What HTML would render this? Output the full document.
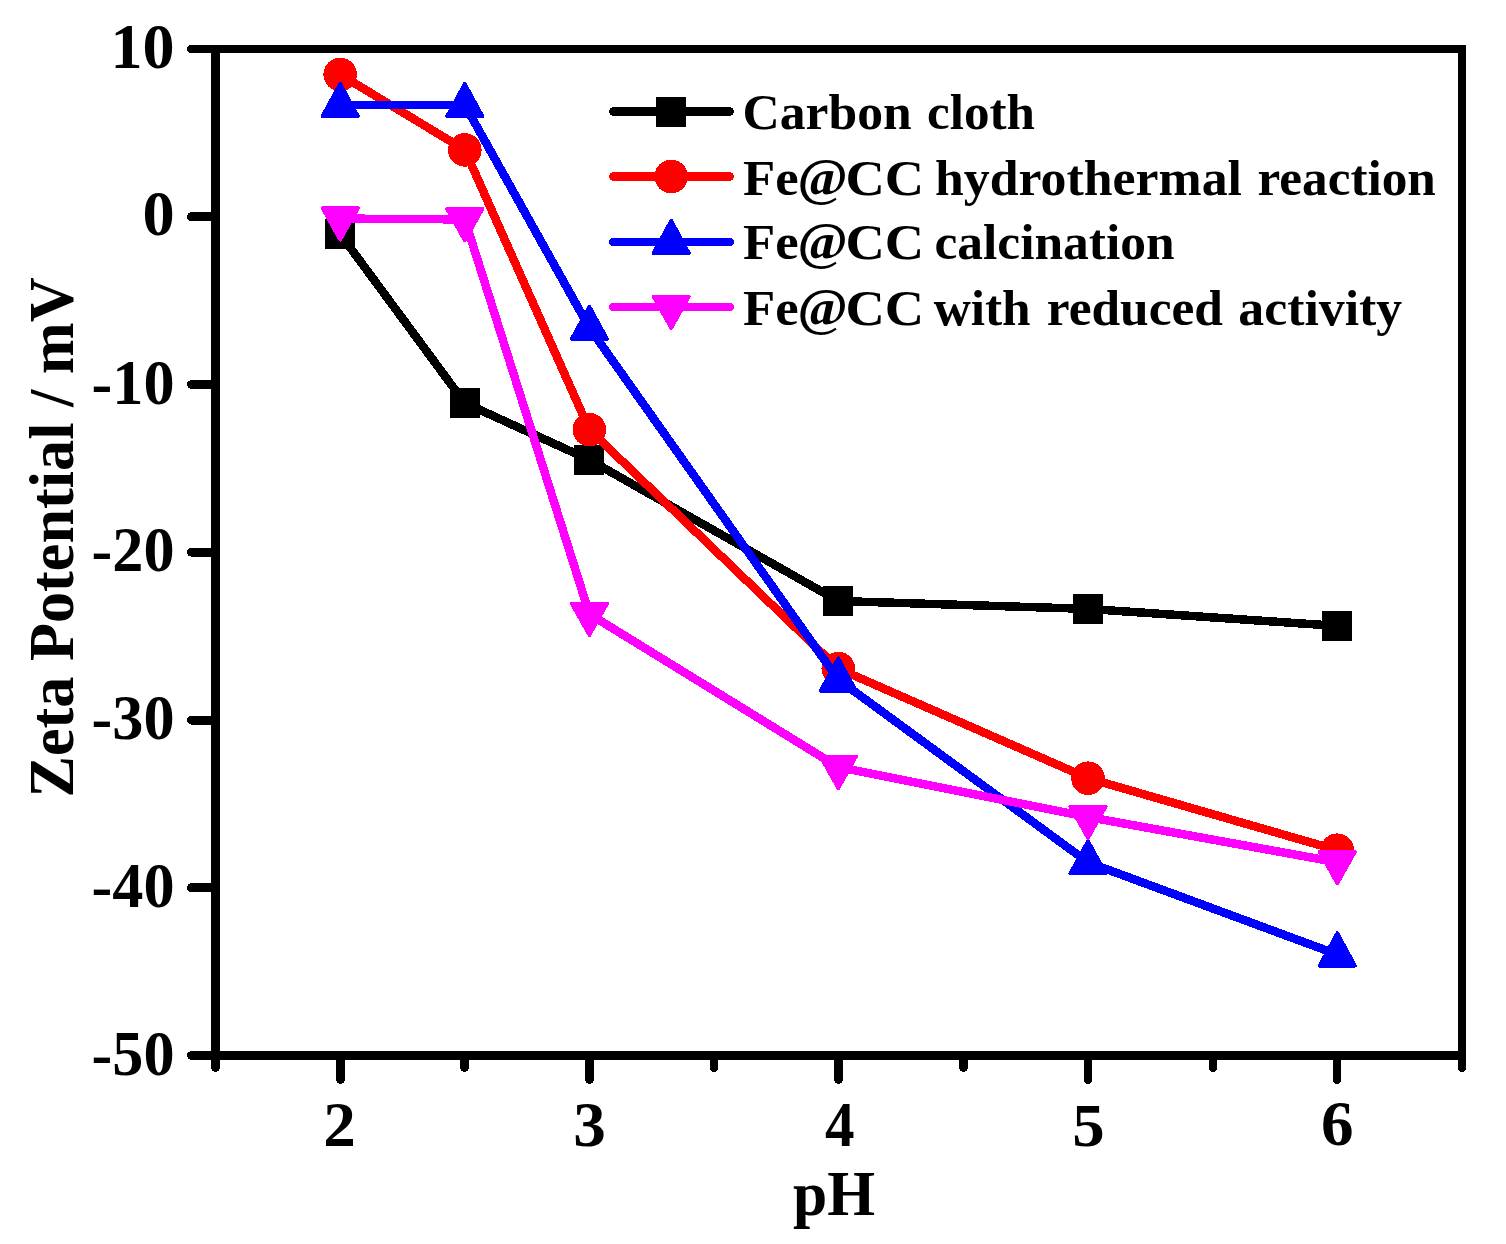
<!DOCTYPE html>
<html><head><meta charset="utf-8"><title>Zeta Potential vs pH</title>
<style>
html,body{margin:0;padding:0;background:#fff;}
body{width:1506px;height:1244px;overflow:hidden;}
svg{display:block;}
text{font-family:"Liberation Serif","Times New Roman",serif;font-weight:bold;fill:#000;}
</style></head><body>
<svg width="1506" height="1244" viewBox="0 0 1506 1244">
<rect width="1506" height="1244" fill="#fff"/>
<g shape-rendering="crispEdges">
<polyline points="340.2,234.0 464.8,403.0 589.4,459.8 838.3,601.0 1088.0,608.9 1337.3,625.9" fill="none" stroke="#000000" stroke-width="8.5" stroke-linejoin="round"/>
<rect x="325.2" y="219.0" width="30.0" height="30.0" fill="#000000"/>
<rect x="449.8" y="388.0" width="30.0" height="30.0" fill="#000000"/>
<rect x="574.4" y="444.8" width="30.0" height="30.0" fill="#000000"/>
<rect x="823.3" y="586.0" width="30.0" height="30.0" fill="#000000"/>
<rect x="1073.0" y="593.9" width="30.0" height="30.0" fill="#000000"/>
<rect x="1322.3" y="610.9" width="30.0" height="30.0" fill="#000000"/>
<polyline points="340.2,74.5 464.8,149.9 589.4,429.7 838.3,668.6 1088.0,778.2 1337.3,850.2" fill="none" stroke="#ff0000" stroke-width="8.5" stroke-linejoin="round"/>
<circle cx="340.2" cy="74.5" r="16.8" fill="#ff0000"/>
<circle cx="464.8" cy="149.9" r="16.8" fill="#ff0000"/>
<circle cx="589.4" cy="429.7" r="16.8" fill="#ff0000"/>
<circle cx="838.3" cy="668.6" r="16.8" fill="#ff0000"/>
<circle cx="1088.0" cy="778.2" r="16.8" fill="#ff0000"/>
<circle cx="1337.3" cy="850.2" r="16.8" fill="#ff0000"/>
<polyline points="340.2,105.0 464.8,105.0 589.4,327.8 838.3,679.6 1088.0,862.3 1337.3,954.5" fill="none" stroke="#0000ff" stroke-width="8.5" stroke-linejoin="round"/>
<polygon points="340.2,83.55 358.05,116.25 322.35,116.25" fill="#0000ff" stroke="#0000ff" stroke-width="3.5" stroke-linejoin="round"/>
<polygon points="464.8,83.55 482.65,116.25 446.95,116.25" fill="#0000ff" stroke="#0000ff" stroke-width="3.5" stroke-linejoin="round"/>
<polygon points="589.4,306.35 607.25,339.05 571.55,339.05" fill="#0000ff" stroke="#0000ff" stroke-width="3.5" stroke-linejoin="round"/>
<polygon points="838.3,658.15 856.15,690.85 820.45,690.85" fill="#0000ff" stroke="#0000ff" stroke-width="3.5" stroke-linejoin="round"/>
<polygon points="1088.0,840.85 1105.85,873.55 1070.15,873.55" fill="#0000ff" stroke="#0000ff" stroke-width="3.5" stroke-linejoin="round"/>
<polygon points="1337.3,933.05 1355.15,965.75 1319.45,965.75" fill="#0000ff" stroke="#0000ff" stroke-width="3.5" stroke-linejoin="round"/>
<polyline points="340.2,218.6 464.8,219.4 589.4,614.0 838.3,767.1 1088.0,817.0 1337.3,862.3" fill="none" stroke="#ff00ff" stroke-width="8.5" stroke-linejoin="round"/>
<polygon points="340.2,239.85 358.05,208.05 322.35,208.05" fill="#ff00ff" stroke="#ff00ff" stroke-width="3.5" stroke-linejoin="round"/>
<polygon points="464.8,240.65 482.65,208.85 446.95,208.85" fill="#ff00ff" stroke="#ff00ff" stroke-width="3.5" stroke-linejoin="round"/>
<polygon points="589.4,635.25 607.25,603.45 571.55,603.45" fill="#ff00ff" stroke="#ff00ff" stroke-width="3.5" stroke-linejoin="round"/>
<polygon points="838.3,788.35 856.15,756.55 820.45,756.55" fill="#ff00ff" stroke="#ff00ff" stroke-width="3.5" stroke-linejoin="round"/>
<polygon points="1088.0,838.25 1105.85,806.45 1070.15,806.45" fill="#ff00ff" stroke="#ff00ff" stroke-width="3.5" stroke-linejoin="round"/>
<polygon points="1337.3,883.55 1355.15,851.75 1319.45,851.75" fill="#ff00ff" stroke="#ff00ff" stroke-width="3.5" stroke-linejoin="round"/>
<rect x="211.0" y="45.0" width="9.0" height="1015.0"/>
<rect x="1458.0" y="45.0" width="8.0" height="1015.0"/>
<rect x="211.0" y="45.0" width="1255.0" height="8.0"/>
<rect x="211.0" y="1051.0" width="1255.0" height="9.0"/>
<g stroke="#000" stroke-linecap="round" fill="none">
<line x1="191.0" y1="49.0" x2="215.5" y2="49.0" stroke-width="8.0"/>
<line x1="191.5" y1="216.8" x2="215.5" y2="216.8" stroke-width="9.0"/>
<line x1="191.5" y1="384.5" x2="215.5" y2="384.5" stroke-width="9.0"/>
<line x1="191.5" y1="552.2" x2="215.5" y2="552.2" stroke-width="9.0"/>
<line x1="191.5" y1="720.0" x2="215.5" y2="720.0" stroke-width="9.0"/>
<line x1="191.5" y1="887.8" x2="215.5" y2="887.8" stroke-width="9.0"/>
<line x1="191.5" y1="1055.5" x2="215.5" y2="1055.5" stroke-width="9.0"/>
<line x1="215.50" y1="1055.5" x2="215.50" y2="1067.5" stroke-width="9.0"/>
<line x1="340.50" y1="1055.5" x2="340.50" y2="1079.5" stroke-width="9.0"/>
<line x1="464.50" y1="1055.5" x2="464.50" y2="1067.5" stroke-width="9.0"/>
<line x1="589.50" y1="1055.5" x2="589.50" y2="1079.5" stroke-width="9.0"/>
<line x1="714.00" y1="1055.5" x2="714.00" y2="1068.0" stroke-width="8.0"/>
<line x1="838.50" y1="1055.5" x2="838.50" y2="1079.5" stroke-width="9.0"/>
<line x1="963.50" y1="1055.5" x2="963.50" y2="1067.5" stroke-width="9.0"/>
<line x1="1088.00" y1="1055.5" x2="1088.00" y2="1080.0" stroke-width="8.0"/>
<line x1="1213.00" y1="1055.5" x2="1213.00" y2="1068.0" stroke-width="8.0"/>
<line x1="1337.20" y1="1055.5" x2="1337.20" y2="1080.0" stroke-width="8.0"/>
<line x1="1462.00" y1="1055.5" x2="1462.00" y2="1068.0" stroke-width="8.0"/>
</g>
<line x1="613.25" y1="111.5" x2="729.75" y2="111.5" stroke="#000000" stroke-width="8.5" stroke-linecap="round"/>
<rect x="656.2" y="96.5" width="30.0" height="30.0" fill="#000000"/>
<line x1="613.25" y1="176.5" x2="729.75" y2="176.5" stroke="#ff0000" stroke-width="8.5" stroke-linecap="round"/>
<circle cx="671.2" cy="176.5" r="16.8" fill="#ff0000"/>
<line x1="613.25" y1="242.0" x2="729.75" y2="242.0" stroke="#0000ff" stroke-width="8.5" stroke-linecap="round"/>
<polygon points="671.2,220.55 689.05,253.25 653.35,253.25" fill="#0000ff" stroke="#0000ff" stroke-width="3.5" stroke-linejoin="round"/>
<line x1="613.25" y1="307.0" x2="729.75" y2="307.0" stroke="#ff00ff" stroke-width="8.5" stroke-linecap="round"/>
<polygon points="671.2,328.25 689.05,296.45 653.35,296.45" fill="#ff00ff" stroke="#ff00ff" stroke-width="3.5" stroke-linejoin="round"/>
</g>
<text transform="translate(110.58,68.00) scale(1.0415,1.0220)" font-size="61.5">10</text>
<text transform="translate(142.46,234.75) scale(1.0466,1.0220)" font-size="61.5">0</text>
<text transform="translate(91.52,403.50) scale(1.0127,1.0220)" font-size="61.5">-10</text>
<text transform="translate(91.52,571.25) scale(1.0127,1.0220)" font-size="61.5">-20</text>
<text transform="translate(91.52,739.00) scale(1.0127,1.0220)" font-size="61.5">-30</text>
<text transform="translate(91.52,906.75) scale(1.0127,1.0220)" font-size="61.5">-40</text>
<text transform="translate(91.52,1074.50) scale(1.0127,1.0220)" font-size="61.5">-50</text>
<text transform="translate(323.26,1145.90) scale(1.0588,1.0209)" font-size="61.5">2</text>
<text transform="translate(573.13,1145.60) scale(1.0595,1.0210)" font-size="61.5">3</text>
<text transform="translate(824.90,1146.00) scale(0.9600,1.0395)" font-size="61.5">4</text>
<text transform="translate(1072.17,1145.61) scale(1.0538,1.0065)" font-size="61.5">5</text>
<text transform="translate(1321.10,1145.40) scale(1.0584,1.0355)" font-size="61.5">6</text>
<text transform="translate(793.05,1215.10) scale(1.0006,1.0240)" font-size="61.5">pH</text>
<text transform="translate(73.2,797.55) rotate(-90) scale(1.0121,1.027)" font-size="61.5">Zeta Potential / mV</text>
<text transform="translate(742.51,129.40) scale(1.0320,1.0000)" font-size="50">Carbon</text>
<text transform="translate(927.01,129.40) scale(1.0225,1.0000)" font-size="50">cloth</text>
<text transform="translate(743.12,194.50) scale(1.0539,1.0000)" font-size="50">Fe</text>
<text transform="translate(797.51,194.50) scale(1.0815,1.0400)" font-size="50">@</text>
<text transform="translate(845.47,194.50) scale(1.0894,1.0000)" font-size="50">CC</text>
<text transform="translate(743.12,259.40) scale(1.0539,1.0000)" font-size="50">Fe</text>
<text transform="translate(797.51,259.40) scale(1.0815,1.0400)" font-size="50">@</text>
<text transform="translate(845.47,259.40) scale(1.0894,1.0000)" font-size="50">CC</text>
<text transform="translate(743.12,324.80) scale(1.0539,1.0000)" font-size="50">Fe</text>
<text transform="translate(797.51,324.80) scale(1.0815,1.0400)" font-size="50">@</text>
<text transform="translate(845.47,324.80) scale(1.0894,1.0000)" font-size="50">CC</text>
<text transform="translate(935.00,194.50) scale(1.0361,1.0000)" font-size="50">hydrothermal</text>
<text transform="translate(1257.43,194.50) scale(1.0256,1.0000)" font-size="50">reaction</text>
<text transform="translate(934.50,259.40) scale(1.0293,1.0000)" font-size="50">calcination</text>
<text transform="translate(933.63,324.80) scale(1.0280,1.0000)" font-size="50">with</text>
<text transform="translate(1046.73,324.80) scale(1.0288,1.0000)" font-size="50">reduced</text>
<text transform="translate(1238.36,324.80) scale(1.0354,1.0000)" font-size="50">activity</text>
</svg></body></html>
